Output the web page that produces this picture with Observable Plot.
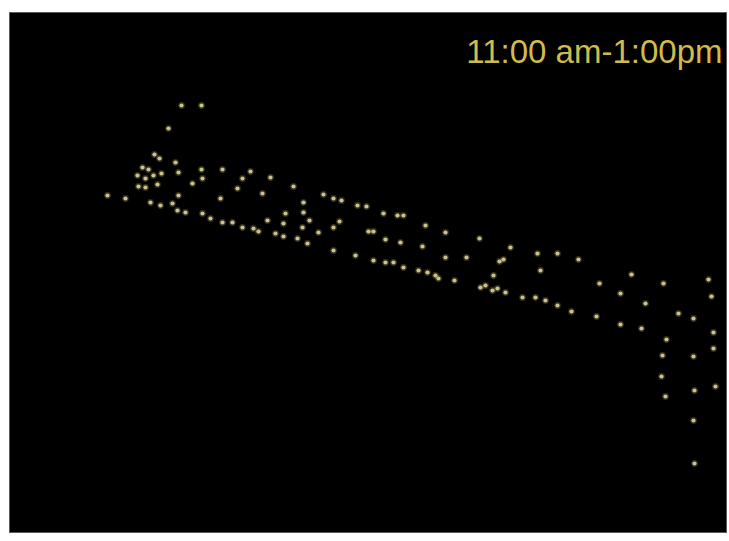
<!DOCTYPE html>
<html>
<head>
<meta charset="utf-8">
<script src="https://cdn.jsdelivr.net/npm/d3@7"></script>
<script src="https://cdn.jsdelivr.net/npm/@observablehq/plot@0.6"></script>
<style>
  html, body { margin: 0; padding: 0; background: #ffffff; }
</style>
</head>
<body>
<div id="chart"></div>
<script>
const label = "11:00 am-1:00pm";

const xs = [
  172,192,159,145,150,166,133,139,128,136,144,152,169,192,213,241,233,193,183,129,
  136,148,228,98,116,169,211,141,151,163,168,176,193,201,213,223,233,244,249,261,
  284,253,294,314,324,332,348,357,276,294,374,388,394,258,274,300,330,266,293,309,
  324,359,364,274,288,298,376,391,324,346,364,376,384,394,416,436,470,413,501,528,
  548,436,457,490,494,409,418,531,426,429,445,484,471,476,483,488,496,513,526,536,
  548,569,622,590,654,699,611,702,562,636,587,669,684,611,632,704,657,704,653,684,
  652,706,656,685,684,685
];
const ys = [
  427,427,404,378,374,370,365,363,357,354,357,359,360,363,363,361,354,354,349,346,
  345,348,344,337,334,337,334,330,327,329,322,320,319,314,310,310,305,304,301,355,
  346,339,330,338,334,332,327,326,319,320,319,317,317,312,309,312,311,299,305,300,
  305,301,301,296,294,289,293,290,282,277,272,270,270,265,307,300,294,286,285,279,
  279,275,275,271,273,262,260,262,257,254,252,257,245,247,242,244,240,235,235,232,
  227,273,258,249,249,253,239,236,221,229,216,219,214,208,204,200,193,184,177,176,
  156,146,136,142,112,69
];

const points = xs.map((x, i) => ({x, y: ys[i]}));

const chart = Plot.plot({
  width: 729,
  height: 541,
  marginLeft: 9,
  marginRight: 3,
  marginTop: 12,
  marginBottom: 9,
  x: {domain: [0, 717], axis: null},
  y: {domain: [0, 520], axis: null},
  style: {background: "#ffffff"},
  marks: [
    Plot.frame({fill: "#000000", stroke: "#5a5a5a", strokeWidth: 1}),
    Plot.dot(points, {x: "x", y: "y", r: 3.4, fill: "#7d7040", fillOpacity: 0.4}),
    Plot.dot(points, {x: "x", y: "y", r: 2.1, fill: "#c9c28f"}),
    Plot.text([label], {
      text: d => d,
      frameAnchor: "top-right",
      lineAnchor: "top",
      dx: -4,
      dy: 27,
      fontSize: 33,
      fontFamily: "Liberation Sans, Arial, sans-serif",
      fill: "#d0bb4c"
    })
  ]
});

document.getElementById("chart").appendChild(chart);
</script>
</body>
</html>
